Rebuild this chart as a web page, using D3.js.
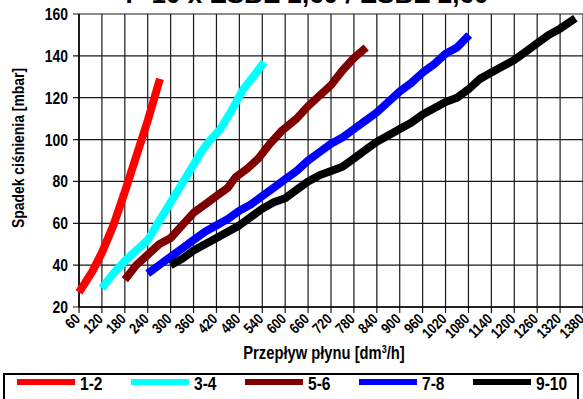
<!DOCTYPE html>
<html>
<head>
<meta charset="utf-8">
<script src="https://cdn.jsdelivr.net/npm/d3@7"></script>
<style>
  body { margin: 0; background: #fff; }
  svg { display: block; }
  text { font-family: Arial, "Liberation Sans", sans-serif; font-weight: bold; fill: #000; }
</style>
</head>
<body>
<script>
// series: [flow dm3/h, pressure drop mbar]
var s12 = [[60,27],[95,37],[120,46],[150,59],[180,75],[210,92],[240,109],[272,129]];
var s34 = [[120,29],[150,36],[180,42],[210,47],[240,52],[270,61],[300,70],[340,82],[380,94],[400,99],
           [430,105],[460,114],[490,124],[520,131],[545,137]];
var s56 = [[180,33],[210,40],[240,45],[270,50],[300,53],[330,59],[360,65],[390,69],[420,73],[450,77],
           [470,82],[500,86],[530,91],[560,98],[590,104],[610,107],[630,110],[660,116],[690,121],
           [720,126],[750,133],[780,139],[812,144]];
var s78 = [[240,36],[270,40],[300,44],[330,48],[360,52],[390,56],[420,59],[450,62],[480,66],[510,69],
           [540,73],[570,77],[600,81],[630,85],[660,90],[690,94],[720,98],[750,101],[780,105],[810,109],
           [840,113],[870,118],[900,123],[930,127],[960,132],[990,136],[1020,141],[1050,144],[1082,150]];
var s910 = [[300,40],[330,43],[360,47],[390,50],[420,53],[450,56],[480,59],[510,63],[540,67],[570,70],
            [600,72],[630,76],[660,80],[690,83],[720,85],[750,87],[780,91],[810,95],[840,99],[870,102],
            [900,105],[930,108],[960,112],[990,115],[1020,118],[1050,120],[1080,124],[1110,129],[1140,132],
            [1170,135],[1200,138],[1230,142],[1260,146],[1290,150],[1320,153],[1360,158]];

var seriesNames = ["1-2", "3-4", "5-6", "7-8", "9-10"];
var seriesData = [s12, s34, s56, s78, s910];
var colors = ["#ff0000", "#00ffff", "#800000", "#0000ff", "#000000"];

var xTicks = d3.range(60, 1381, 60);
var yTicks = d3.range(20, 161, 20);

var title = "P-10 x ESBE 2,60 / ESBE 2,60";

var W = 583, H = 399;
var svg = d3.select("body").append("svg")
    .attr("width", W)
    .attr("height", H);

var x = d3.scaleLinear().domain([60, 1380]).range([79, 583]);
var y = d3.scaleLinear().domain([20, 160]).range([307, 14]);

// narrow look of the original text
var squeeze = " scale(0.82,1)";

// title (clipped off the top in the original)
svg.append("text")
    .attr("x", 307)
    .attr("y", 3)
    .attr("text-anchor", "middle")
    .style("font-size", "26px")
    .text(title);

// grid
svg.append("g").selectAll("line")
    .data(xTicks)
    .enter().append("line")
    .attr("x1", function(d) { return x(d); })
    .attr("x2", function(d) { return x(d); })
    .attr("y1", y(160))
    .attr("y2", y(20) + 6)
    .attr("stroke", "#1a1a1a")
    .attr("stroke-width", 1.2);

svg.append("g").selectAll("line")
    .data(yTicks)
    .enter().append("line")
    .attr("x1", x(60) - 6)
    .attr("x2", W)
    .attr("y1", function(d) { return y(d); })
    .attr("y2", function(d) { return y(d); })
    .attr("stroke", "#1a1a1a")
    .attr("stroke-width", 1.2);

// axes lines
svg.append("line")
    .attr("x1", x(60)).attr("x2", x(60))
    .attr("y1", y(160)).attr("y2", y(20))
    .attr("stroke", "#000").attr("stroke-width", 1.5);
svg.append("line")
    .attr("x1", x(60)).attr("x2", W)
    .attr("y1", y(20)).attr("y2", y(20))
    .attr("stroke", "#000").attr("stroke-width", 1.5);

// y tick labels
svg.append("g").selectAll("text")
    .data(yTicks)
    .enter().append("text")
    .attr("transform", function(d) { return "translate(68," + (y(d) + 6) + ")" + squeeze; })
    .attr("text-anchor", "end")
    .style("font-size", "17px")
    .text(function(d) { return d; });

// x tick labels, rotated
svg.append("g").selectAll("text")
    .data(xTicks)
    .enter().append("text")
    .attr("text-anchor", "end")
    .attr("transform", function(d) {
        return "translate(" + (x(d) + 2) + "," + (y(20) + 13) + ") rotate(-45)" + squeeze;
    })
    .style("font-size", "15px")
    .text(function(d) { return d; });

// axis titles
svg.append("text")
    .attr("transform", "translate(324,359)" + squeeze)
    .attr("text-anchor", "middle")
    .style("font-size", "18px")
    .html("Przepływ płynu [dm<tspan dy='-6' style='font-size:11px'>3</tspan><tspan dy='6'>/h]</tspan>");

svg.append("text")
    .attr("transform", "translate(24,148) rotate(-90)" + squeeze)
    .attr("text-anchor", "middle")
    .style("font-size", "17px")
    .text("Spadek ciśnienia [mbar]");

// series lines
var line = d3.line()
    .x(function(d) { return x(d[0]); })
    .y(function(d) { return y(d[1]); });

svg.append("g").selectAll("path")
    .data(seriesData)
    .enter().append("path")
    .attr("fill", "none")
    .attr("stroke", function(d, i) { return colors[i]; })
    .attr("stroke-width", 8)
    .attr("stroke-linejoin", "round")
    .attr("stroke-linecap", "butt")
    .attr("d", line);

// legend
svg.append("rect")
    .attr("x", 4)
    .attr("y", 374)
    .attr("width", 574)
    .attr("height", 40)
    .attr("fill", "#fff")
    .attr("stroke", "#000")
    .attr("stroke-width", 2);

var leg = svg.append("g").selectAll("g")
    .data(seriesNames)
    .enter().append("g")
    .attr("transform", function(d, i) { return "translate(" + (17 + i * 114) + ",382)"; });

leg.append("line")
    .attr("x1", 0).attr("x2", 58)
    .attr("y1", 0).attr("y2", 0)
    .attr("stroke", function(d, i) { return colors[i]; })
    .attr("stroke-width", 6);

leg.append("text")
    .attr("transform", "translate(63,8)" + squeeze)
    .style("font-size", "19px")
    .text(function(d) { return d; });
</script>
</body>
</html>
